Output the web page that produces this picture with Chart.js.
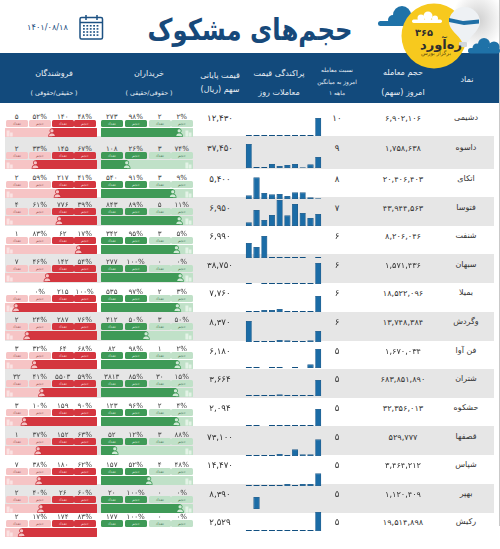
<!DOCTYPE html>
<html lang="fa"><head><meta charset="utf-8">
<script src="https://cdn.jsdelivr.net/npm/chart.js@4"></script>
<style>
html,body{margin:0;padding:0;background:#fff;width:500px;height:549px;overflow:hidden;font-family:"DejaVu Sans",sans-serif}
#page{position:relative;width:500px;height:549px;overflow:hidden}
.t{position:absolute;white-space:nowrap;transform:translate(-50%,-50%);line-height:1}
.band{position:absolute}
.pill{position:absolute;border-radius:1.5px;display:flex;align-items:center;justify-content:center;font-size:4px;line-height:1}
canvas{position:absolute;display:block}
</style></head><body><div id="page"></div>
<script>
const symbols=["دشیمی","داسوه","اتکای","فتوسا","شنفت","سبهان","بمیلا","وگردش","فن آوا","شتران","حشکوه","قصفها","شپاس","بهپر","رکیش"];
const tradeVolume=[6902106,1758638,20406403,43944563,8206046,1571436,18522096,13748384,1670034,683851890,32356013,529777,3464212,1120409,19514898];
const volumeRatio=[10,9,8,7,6,6,6,6,5,5,5,5,5,5,5];
const closePrice=[12430,37450,5400,6950,6990,38750,7760,8370,6180,3664,2094,73100,14470,8390,2529];
const dist1=[1,1,1,1,1,1,1,1,1,18];
const dist2=[24,1,1,4,2,3,4,.6,3.5,11];
const dist3=[3.5,21.5,6,4.5,5,3,6.5,6.5,1.5,.6];
const dist4=[3.5,16,6,11,26,10.5,22,13,8,12];
const dist5=[15,11,22,1,1,1,1,1,0,1];
const dist6=[1,0,1,1,1,1,1,1,1,21];
const dist7=[1,1,2,2,3,1,1,1,1,16];
const dist8=[21,1,1,1,2,1.5,1,1,1.5,11];
const dist9=[1,1,0,1,1,0,1,0,3.5,19];
const dist10=[1,1,1,1,1.5,1,1,1,1,16];
const dist11=[1,1,0,1,1,1,1,1,1,17];
const dist12=[1,1,1,1,2,1,6.5,1.5,1.5,16.5];
const dist13=[1,1,1,1,1,2,1,2,2,12.5];
const dist14=[0,12,0,0,0,0,0,0,0,0];
const dist15=[1,1,1,1,1,1,1,1,1,19];
const buyerCountA=[273,108,540,843,342,277,535,412,82,3813,123,52,157,20,177];
const buyerPctA=[98,26,91,89,95,100,97,50,98,85,96,12,52,100,100];
const buyerCountB=[2,3,3,5,3,0,2,3,1,30,2,3,4,0,0];
const buyerPctB=[2,74,9,11,5,0,3,50,2,15,4,88,48,0,0];
const buyerBarSplit=[85,28,78,85,82,86,83,49,83,81,82,15,52,86,null];
const sellerCountA=[5,2,2,4,1,7,0,2,3,32,3,1,7,2,2];
const sellerPctA=[52,33,59,61,83,46,0,24,32,41,10,37,38,40,17];
const sellerCountB=[140,145,217,776,62,142,215,287,64,5503,159,152,180,26,174];
const sellerPctB=[48,67,41,39,17,54,100,76,68,59,90,63,62,60,83];
const sellerBarSplit=[51,33,57,59,80,46,12,24,32,40,21,36,37,39,18];
const dateLabel="۱۴۰۱/۰۸/۱۸";
const titleLabel="حجم‌های مشکوک";
const distributions=[dist1,dist2,dist3,dist4,dist5,dist6,dist7,dist8,dist9,dist10,dist11,dist12,dist13,dist14,dist15];

const rowTop=[106,136,169,197,226,254,283,312,341,369,398,426,455,484,513,538];
const textY=[118,148,179,208,236,265,293,322,351,379,408,437,465,494,522];
const barTop=[128,160,189,216,245,273,303,331,360,388,417,446,476,504,528];
const sparkBase=[136,168,199,226,258,284,312,342,368,396,426,456,486,509,531];
const RED='#d4363f',PINK='#f6c4c5',GREEN='#3f9a57',MINT='#c0e1c8',NAVY='#124a7c';
const page=document.getElementById('page');
const fa=s=>String(s).replace(/\d/g,d=>'۰۱۲۳۴۵۶۷۸۹'[d]);
const fmt=n=>fa(n.toLocaleString('en-US'));
const mctx=document.createElement('canvas').getContext('2d');
function fit(sample,target,weight){mctx.font=`${weight||400} 100px "DejaVu Sans"`;return 100*target/mctx.measureText(sample).width}
function text(s,x,y,size,color,weight,dir){const e=document.createElement('div');e.className='t';e.textContent=s;e.style.cssText=`left:${x}px;top:${y}px;font-size:${size}px;color:${color};font-weight:${weight||400}`;if(dir)e.dir=dir;page.appendChild(e);return e}
function box(x,y,w,h,c){const e=document.createElement('div');e.className='band';e.style.cssText=`left:${x}px;top:${y}px;width:${w}px;height:${h}px;background:${c}`;page.appendChild(e);return e}
function canvas(x,y,w,h){const c=document.createElement('canvas');c.width=w;c.height=h;c.style.cssText=`left:${x}px;top:${y}px;width:${w}px;height:${h}px`;page.appendChild(c);return c}

const volSize=fit(fmt(6902106),36), priceSize=fit(fmt(12430),26), nameSize=fit("دشیمی",24), smallSize=fit(fa(273),11.5), hSize=fit("حجم معامله",40), hSmall=fit("نسبت معامله",32), hParen=fit("( حقیقی/حقوقی )",47);

// header
box(0,53,500,50,NAVY);
box(499,0,1,526,'#c9c9c9');
const ttl=text(titleLabel,250,30,fit(titleLabel,205/.82,700),'#17497a',700);
ttl.style.transform='translate(-50%,-50%) scaleX(.82)';
text(dateLabel,47.5,26.5,fit(dateLabel,41),'#1a4c7e',400,'ltr');
const labels=[["نماد",467,80,hSize],["حجم معامله",403,73,hSize],["امروز (سهم)",403,93,hSize],["نسبت معامله",337,71,hSmall],["امروز به میانگین",337,83,hSmall],["۱ ماهه",337,94,hSmall],["پراکندگی قیمت",279,74,hSize],["معاملات روز",279,93,hSize],["قیمت پایانی",220,76,hSize],["سهم (ریال)",220,90,hSize],["خریداران",149,74,hSize],["( حقوقی/حقیقی )",149,93,hParen],["فروشندگان",54,74,hSize],["( حقیقی/حقوقی )",54,93,hParen]];
labels.forEach(l=>text(l[0],l[1],l[2],l[3],'#e9eff5'));

// art: calendar + logo
const art=document.createElement('div');
art.innerHTML=`<svg width="500" height="110" style="position:absolute;left:0;top:0;overflow:visible">
<defs><radialGradient id="sh" cx="50%" cy="50%" r="50%"><stop offset="0" stop-color="#bbb" stop-opacity=".7"/><stop offset="1" stop-color="#bbb" stop-opacity="0"/></radialGradient></defs>
<ellipse cx="478" cy="20" rx="26" ry="30" fill="url(#sh)"/>
<g fill="none" stroke="#1d5283" stroke-width="1.5"><rect x="80" y="17.5" width="22.5" height="21.5" rx="1.5"/><path d="M80 22.5h22.5M86 15v5M97 15v5"/></g>
<g fill="#1d5283">${[0,1,2,3].flatMap(r=>[0,1,2,3,4].map(c=>`<rect x="${83+c*3.4}" y="${25+r*3.1}" width="1.8" height="1.6"/>`)).join('')}</g>
<g fill="#1f72a8"><rect x="378" y="21" width="36" height="5" rx="2.5"/><circle cx="393" cy="20" r="5"/><circle cx="402" cy="15" r="9"/><circle cx="411" cy="19" r="6"/>
<circle cx="484" cy="44" r="6"/><circle cx="477" cy="48" r="4.5"/><rect x="468" y="48" width="32" height="5.5" rx="2.7"/><circle cx="494" cy="47" r="5.5"/></g>
<circle cx="434" cy="36" r="32.5" fill="#f7c91e"/>
<g fill="#fff"><rect x="412" y="19.5" width="30" height="3.5" rx="1.7"/><circle cx="421" cy="18" r="3.5"/><circle cx="428" cy="16" r="4.5"/><circle cx="435" cy="18.5" r="3"/></g>
<path d="M449 22a15.5 15 0 1 1 31 0c0 8-9 13-12 20h-6c-3-7-13-12-13-20z" fill="#eef1f4"/>
<path d="M449 18l14 3 16-1.500v4l-15 1.500-15-3z" fill="#1f6fa6"/>
<rect x="459" y="42" width="8" height="5" rx="1" fill="#d3d7da"/>
</svg>`;
art.style.cssText='position:absolute;left:0;top:0;width:500px;height:110px';

// rows
rowTop.slice(0,15).forEach((t,i)=>{ if(i%2) box(5,t,489,rowTop[i+1]-t,'#e6e6e6'); });
page.appendChild(art);
text("۳۶۵",424,33,fit("۳۶۵",18,700),'#2f2f2f',700);
text("ره‌آورد",441,44.5,fit("ره‌آورد",42,700),'#2f2f2f',700);
text("برگزار بورس",436,54,fit("برگزار بورس",30),'#5b4a10');

const pillX={seller:[6,29,52,74],buyer:[101,125,149,171]};
const pillW=21.5;
const tags=["تعداد","حجم","تعداد","حجم"];
function pills(xs,fills,inks,vals,i){
  xs.forEach((x,k)=>{
    const p=document.createElement('div');p.className='pill';p.textContent=tags[k];
    p.style.cssText=`left:${x}px;top:${barTop[i]-8}px;width:${pillW}px;height:7px;background:${fills[k]};color:${inks[k]}`;
    page.appendChild(p);
    text(vals[k],x+pillW/2,barTop[i]-11.5,smallSize,'#444',400,'ltr');
  });
}
function iconPlugin(splitVal,ink,fill,buildingAt,bldg){return{id:'icons',afterDatasetsDraw(ch){
  const c=ch.ctx,sx=ch.scales.x,x=sx.getPixelForValue(splitVal),h=ch.height;
  c.save();
  const bx=sx.getPixelForValue(buildingAt);
  c.fillStyle=bldg;c.fillRect(bx-3,2.5,3,h-3);c.fillRect(bx+.5,4.5,2.6,h-5);
  c.fillStyle=fill;c.strokeStyle=ink;c.lineWidth=.8;
  c.beginPath();c.arc(x,2.8,2,0,Math.PI*2);c.fill();c.stroke();
  c.beginPath();c.moveTo(x-3.4,h-.6);c.quadraticCurveTo(x-3.2,5,x,5);c.quadraticCurveTo(x+3.2,5,x+3.4,h-.6);c.closePath();c.fill();c.stroke();
  c.restore();
}}}
function splitBar(x,y,first,second,splitVal,ink,fill,buildingAt,bldg){
  if(splitVal===null) return;
  new Chart(canvas(x,y,92,9),{type:'bar',plugins:[iconPlugin(splitVal,ink,fill,buildingAt,bldg)],
    data:{labels:[''],datasets:[
      {data:[splitVal],backgroundColor:first,borderWidth:0,borderSkipped:false,borderRadius:{topLeft:2,bottomLeft:2,topRight:0,bottomRight:0},stack:'s'},
      {data:[100-splitVal],backgroundColor:second,borderWidth:0,borderSkipped:false,borderRadius:{topLeft:0,bottomLeft:0,topRight:2,bottomRight:2},stack:'s'}]},
    options:{indexAxis:'y',responsive:false,animation:false,devicePixelRatio:2,events:[],layout:{padding:0},
      plugins:{legend:{display:false},tooltip:{enabled:false}},
      datasets:{bar:{barPercentage:1,categoryPercentage:1}},
      scales:{x:{display:false,stacked:true,min:0,max:100},y:{display:false,stacked:true}}}});
}
symbols.forEach((name,i)=>{
  const y=textY[i];
  text(name,466,y,nameSize,'#333');
  text(fmt(tradeVolume[i]),403,y,volSize,'#333',400,'ltr');
  text(fa(volumeRatio[i]),337,y,priceSize,'#333',400,'ltr');
  text(fmt(closePrice[i]),220,y,priceSize,'#333',400,'ltr');
  new Chart(canvas(245,sparkBase[i]-30,77,30),{type:'bar',
    data:{labels:distributions[i].map((_,k)=>k),datasets:[{data:distributions[i],backgroundColor:'#1b6ca6',borderColor:'#114f80',borderWidth:.6,borderSkipped:false}]},
    options:{responsive:false,animation:false,devicePixelRatio:2,events:[],layout:{padding:0},
      plugins:{legend:{display:false},tooltip:{enabled:false}},
      datasets:{bar:{barPercentage:.78,categoryPercentage:1}},
      scales:{x:{display:false},y:{display:false,min:0,max:30}}}});
  pills(pillX.seller,[PINK,PINK,RED,RED],['#a05a5c','#a05a5c','#f8d0d0','#f8d0d0'],
    [fa(sellerCountA[i]),fa(sellerPctA[i])+'%',fa(sellerCountB[i]),fa(sellerPctB[i])+'%'],i);
  splitBar(5,barTop[i],PINK,RED,sellerBarSplit[i],'#c9343d','#f6c4c5',5,'#fae3e3');
  pills(pillX.buyer,[GREEN,GREEN,MINT,MINT],['#cfe9d5','#cfe9d5','#4d7a5a','#4d7a5a'],
    [fa(buyerCountA[i]),fa(buyerPctA[i])+'%',fa(buyerCountB[i]),fa(buyerPctB[i])+'%'],i);
  splitBar(101,barTop[i],GREEN,MINT,buyerBarSplit[i],'#3f9a57','#d0ead6',95,'#e4f3e7');
});
</script></body></html>
